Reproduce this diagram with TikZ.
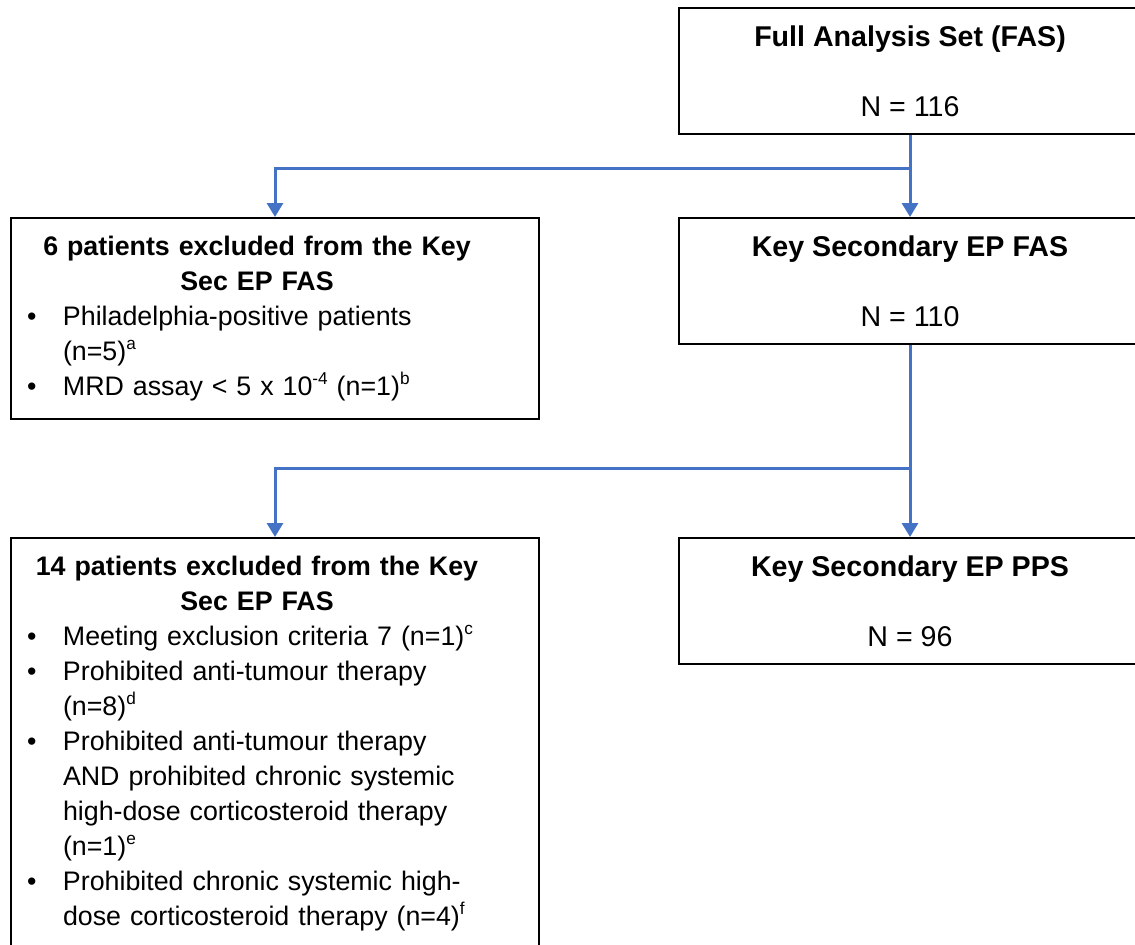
\documentclass[tikz,border=0pt]{standalone}
\usepackage{fontspec}
\setmainfont{Liberation Sans}
\usetikzlibrary{arrows.meta}
\definecolor{flowblue}{HTML}{4472C4}
\newcommand{\bulitem}{\par\noindent\hangindent=21pt\hangafter=1\hbox to 21pt{\hspace{3pt}\textbullet\hfil}}
\newcommand{\boxtitle}[1]{{\centering\rightskip=18pt plus 1fil\bfseries #1\par}}
\newcommand{\supmark}[1]{\raisebox{0.75ex}{\fontsize{8.6pt}{8.6pt}\selectfont #1}}

\begin{document}
\begin{tikzpicture}[
  x=0.5pt, y=-0.5pt,
  box/.style={draw, line width=1pt},
  setbox/.style={box, anchor=north, minimum width=231pt, minimum height=63pt, align=center,
                 font=\fontsize{14.3pt}{17.5pt}\selectfont},
  exclbox/.style={box, anchor=north, text width=254pt, inner xsep=5pt, inner ysep=9pt,
                  font=\fontsize{13.4pt}{17.5pt}\selectfont},
  arr/.style={-{Triangle[width=8pt,length=7pt]}, line width=1.5pt, flowblue}
]
  \useasboundingbox (0,0) rectangle (1135,944);
  \clip (0,0) rectangle (1135,944);

  \node[setbox] (fas) at (910,7) {\textbf{Full Analysis Set (FAS)}\\[17.5pt]N = 116};
  \node[setbox] (keyfas) at (910,217) {\textbf{Key Secondary EP FAS}\\[17.5pt]N = 110};
  \node[setbox] (keypps) at (910,537) {\textbf{Key Secondary EP PPS}\\[17.5pt]N = 96};

  \node[exclbox] (excl1) at (275,217) {%
    \boxtitle{6 patients excluded from the Key\\Sec EP FAS}%
    \bulitem Philadelphia-positive patients\newline(n=5)\supmark{a}%
    \bulitem MRD assay < 5 x 10\supmark{-4} (n=1)\supmark{b}\par};
  \node[exclbox] (excl2) at (275,537) {%
    \boxtitle{14 patients excluded from the Key\\Sec EP FAS}%
    \bulitem Meeting exclusion criteria 7 (n=1)\supmark{c}%
    \bulitem Prohibited anti-tumour therapy\newline(n=8)\supmark{d}%
    \bulitem Prohibited anti-tumour therapy\newline AND prohibited chronic systemic\newline
      high-dose corticosteroid therapy\newline(n=1)\supmark{e}%
    \bulitem Prohibited chronic systemic high-\newline dose corticosteroid therapy (n=4)\supmark{f}\par};

  \coordinate (fork1) at (910,168);
  \coordinate (fork2) at (910,468);
  \draw[arr] (fas.south) -- (keyfas.north);
  \draw[arr] (fork1) -| (excl1.north);
  \draw[arr] (keyfas.south) -- (keypps.north);
  \draw[arr] (fork2) -| (excl2.north);
\end{tikzpicture}
\end{document}
